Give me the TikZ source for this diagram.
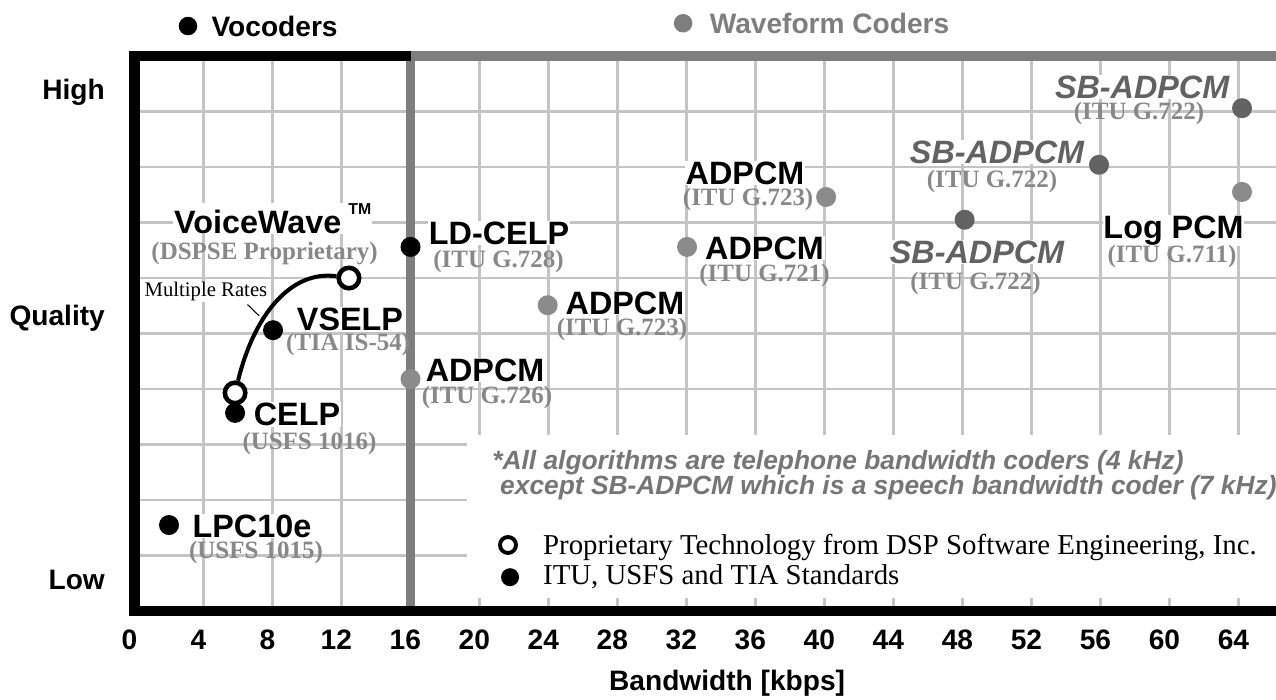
\documentclass[tikz,border=0pt]{standalone}
\usepackage{fontspec}
\setmainfont{Liberation Serif}
\setsansfont{Liberation Sans}
\usepackage{tikz}

\definecolor{gridgray}{HTML}{C4C4C4}
\definecolor{linegray}{HTML}{7E7E7E}
\definecolor{subgray}{HTML}{888888}
\definecolor{sbgray}{HTML}{626262}
\definecolor{notegray}{HTML}{767676}

\begin{document}
\begin{tikzpicture}[x = 0.345cm, y = 1.11cm,
  grid/.style = {draw = gridgray, line width = 1.3pt},
  coder/.style = {font = \sffamily\bfseries\fontsize{18.4}{20}\selectfont, fill = white, inner sep = 0.5pt},
  sbcoder/.style = {coder, font = \sffamily\bfseries\itshape\fontsize{18.4}{20}\selectfont, text = sbgray},
  stdlab/.style = {font = \rmfamily\bfseries\fontsize{14.2}{16}\selectfont, text = subgray, inner sep = 0.5pt},
  axlab/.style = {font = \sffamily\bfseries\fontsize{16}{18}\selectfont},
  vdot/.style = {circle, fill = black, inner sep = 0pt, minimum size = 0.4cm},
  wdot/.style = {vdot, fill = linegray!90},
  sbdot/.style = {vdot, fill = sbgray},
  pdot/.style = {circle, draw = black, fill = white, line width = 2.6pt, inner sep = 0pt, minimum size = 0.41cm}]

\useasboundingbox (-7.797,-1.586) rectangle (66.17,11.009);

% grid and frame
\foreach \k in {4,8,...,64} \draw[grid] (\k,0) -- (\k,10);
\foreach \k in {1,...,9} \draw[grid] (0,\k) -- (66.2,\k);
\fill[white] (19.3,0.23) rectangle (66.2,3.17);
\draw[line width = 0.19cm, linegray] (16,0) -- (16,10) -- (66.2,10);
\draw[line width = 0.21cm] (16,10) -- (0,10) -- (0,0) -- (66.2,0);

% axes
\foreach \k in {0,4,...,64} \node[axlab] (t\k) at (\k-0.3,-0.52) {\k};
\node[axlab] (bw) at (34.35,-1.30) {Bandwidth [kbps]};
\node[axlab, anchor = east] (high) at (-1.36,9.35) {High};
\node[axlab, anchor = east] (qual) at (-1.36,5.28) {Quality};
\node[axlab, anchor = east] (low) at (-1.36,0.56) {Low};

% header
\node[vdot, minimum size = 0.37cm] (vocdot) at (3.10,10.54) {};
\node[axlab] (voc) at (8.12,10.54) {Vocoders};
\node[vdot, minimum size = 0.37cm, fill = linegray] (wavdot) at (31.8,10.59) {};
\node[axlab, text = linegray] (wav) at (40.29,10.59) {Waveform Coders};

% vocoders
\node[coder, anchor = base west] (vw) at (2.23,6.81) {VoiceWave\hspace{4pt}\raisebox{1.1ex}{\fontsize{9}{9}\selectfont TM}};
\node[stdlab] (vwS) at (7.54,6.45) {(DSPSE Proprietary)};
\node[font = \rmfamily\fontsize{11.8}{13}\selectfont, fill = white, inner sep = 0.5pt] (mrates) at (4.14,5.75) {Multiple Rates};

\node[vdot] (celp) at (5.83,3.57) {};
\node[pdot] (vwlo) at (5.83,3.93) {};
\node[pdot] (vwhi) at (12.43,6.0) {};
\draw[line width = 2.3pt] (vwlo) .. controls (6.9,5.3) and (9.0,6.15) .. (vwhi);
\coordinate (mrtip) at (7.22,5.32);
\draw[line width = 0.6pt] ([xshift = -0.42cm, yshift = -0.04cm]mrates.south east) -- (mrtip);

\node[vdot] (vselp) at (8.03,5.06) {};
\node[coder] (vselpL) at (12.49,5.25) {VSELP};
\node[stdlab] (vselpS) at (12.38,4.80) {(TIA IS-54)};

\node[coder] (celpL) at (9.42,3.54) {CELP};
\node[stdlab] (celpS) at (10.14,3.01) {(USFS 1016)};

\node[vdot] (lpc) at (2.0,1.55) {};
\node[coder] (lpcL) at (6.81,1.53) {LPC10e};
\node[stdlab] (lpcS) at (7.04,1.06) {(USFS 1015)};

\node[vdot] (ldcelp) at (16,6.56) {};
\node[coder] (ldcelpL) at (21.13,6.81) {LD-CELP};
\node[stdlab] (ldcelpS) at (21.1,6.29) {(ITU G.728)};

% waveform coders
\node[wdot] (ad16) at (16,4.18) {};
\node[coder] (ad16L) at (20.32,4.34) {ADPCM};
\node[stdlab] (ad16S) at (20.43,3.84) {(ITU G.726)};

\node[wdot] (ad24) at (23.95,5.51) {};
\node[coder] (ad24L) at (28.43,5.55) {ADPCM};
\node[stdlab] (ad24S) at (28.26,5.08) {(ITU G.723)};

\node[wdot] (ad32) at (32.03,6.56) {};
\node[coder] (ad32L) at (36.52,6.54) {ADPCM};
\node[stdlab] (ad32S) at (36.52,6.04) {(ITU G.721)};

\node[wdot] (ad40) at (40.09,7.46) {};
\node[coder] (ad40L) at (35.39,7.89) {ADPCM};
\node[stdlab] (ad40S) at (35.57,7.41) {(ITU G.723)};

\node[sbdot] (sb48) at (48.12,7.05) {};
\node[sbcoder] (sb48L) at (48.84,6.47) {SB-ADPCM};
\node[stdlab] (sb48S) at (48.75,5.91) {(ITU G.722)};

\node[sbdot] (sb56) at (55.91,8.04) {};
\node[sbcoder] (sb56L) at (50.0,8.27) {SB-ADPCM};
\node[stdlab] (sb56S) at (49.71,7.73) {(ITU G.722)};

\node[sbdot] (sb64) at (64.2,9.06) {};
\node[sbcoder] (sb64L) at (58.41,9.44) {SB-ADPCM};
\node[stdlab] (sb64S) at (58.23,8.97) {(ITU G.722)};

\node[wdot] (pcm) at (64.2,7.55) {};
\node[coder] (pcmL) at (60.23,6.86) {Log PCM};
\node[stdlab] (pcmS) at (60.14,6.38) {(ITU G.711)};

% notes and legend
\node[anchor = west, text = notegray, font = \sffamily\bfseries\itshape\fontsize{15}{17}\selectfont] (note1) at (20.38,2.68) {*All algorithms are telephone bandwidth coders (4 kHz)};
\node[anchor = west, text = notegray, font = \sffamily\bfseries\itshape\fontsize{15}{17}\selectfont] (note2) at (20.84,2.23) {except SB-ADPCM which is a speech bandwidth coder (7 kHz)};

\node[pdot, minimum size = 0.32cm, line width = 2.2pt] (lgp) at (21.65,1.19) {};
\node[anchor = west, font = \rmfamily\fontsize{16.4}{18}\selectfont] (lgpL) at (23.33,1.15) {Proprietary Technology from DSP Software Engineering, Inc.};
\node[vdot, minimum size = 0.36cm] (lgs) at (21.77,0.61) {};
\node[anchor = west, font = \rmfamily\fontsize{16.4}{18}\selectfont] (lgsL) at (23.33,0.61) {ITU, USFS and TIA Standards};
\end{tikzpicture}
\end{document}
